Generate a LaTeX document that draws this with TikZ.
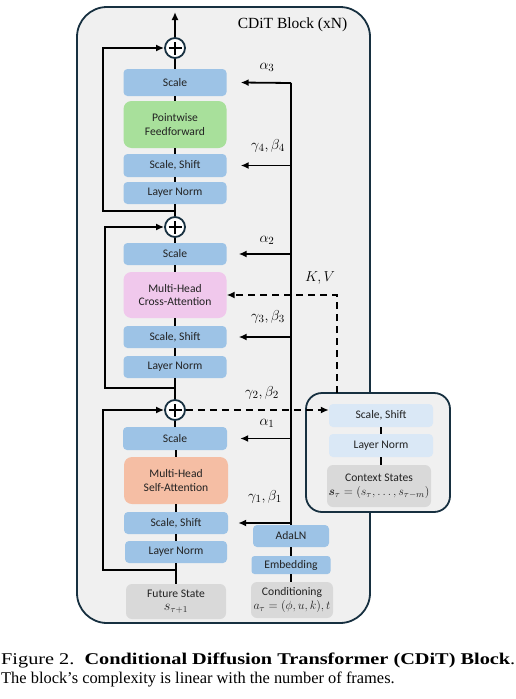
\documentclass[tikz,border=0pt]{standalone}
\usepackage{amsmath,bm}
\usepackage{graphicx}
\usepackage{fontspec}
\setmainfont{Liberation Serif}
\newfontfamily\boxfont{Carlito}
\usetikzlibrary{arrows.meta,calc}
\definecolor{bluebox}{HTML}{9DC3E6}
\definecolor{lightblue}{HTML}{DAE8F6}
\definecolor{greenbox}{HTML}{A8E09B}
\definecolor{pinkbox}{HTML}{F0C8EC}
\definecolor{salmonbox}{HTML}{F5BEA4}
\definecolor{graybox}{HTML}{D9D9D9}
\definecolor{outerfill}{HTML}{F0F0F0}
\definecolor{bordercol}{HTML}{173040}
\definecolor{txt}{HTML}{222222}
\begin{document}
\begin{tikzpicture}[x=1pt,y=-1pt,
  blk/.style={draw=none, rounded corners=4pt, inner sep=0pt, align=center,
    text=txt, font=\boxfont\fontsize{11.6}{13.5}\selectfont,
    minimum width=103pt, minimum height=22pt},
  bigblk/.style={blk, rounded corners=8pt, minimum height=47pt},
  ln/.style={line width=1.8pt, black},
  arr/.style={ln, -{Latex[length=8pt,width=7pt]}},
  darr/.style={arr, dash pattern=on 7pt off 5pt},
  plus/.style={circle, draw=bordercol, fill=white, line width=1.8pt,
    minimum size=20pt, inner sep=0pt,
    path picture={\draw[line width=1.8pt,black]
      ([xshift=-6.5pt]path picture bounding box.center) -- ([xshift=6.5pt]path picture bounding box.center)
      ([yshift=-6.5pt]path picture bounding box.center) -- ([yshift=6.5pt]path picture bounding box.center);}},
  mlab/.style={font=\fontsize{15.5}{17}\selectfont, inner sep=0pt},
]
\useasboundingbox (0,0) rectangle (516,699);

% outer block
\node[draw=bordercol, fill=outerfill, line width=1.8pt, rounded corners=30pt,
  minimum width=293pt, minimum height=616pt, inner sep=0pt] (outer) at (223.5,315) {};
\node[font=\fontsize{15.5}{18}\selectfont, inner sep=0pt] (title) at (292.5,25) {CDiT Block (xN)};

% context box
\node[draw=bordercol, fill=outerfill, line width=1.8pt, rounded corners=16pt,
  minimum width=144pt, minimum height=119pt, inner sep=0pt] (ctx) at (378,452.5) {};
\node[blk, fill=lightblue, minimum width=104pt, minimum height=23pt] (cssh) at (381,415.5) {Scale, Shift};
\node[blk, fill=lightblue, minimum width=104pt, minimum height=23pt] (cln) at (381,445.5) {Layer Norm};
\node[blk, fill=graybox, minimum width=104pt, minimum height=42pt, rounded corners=6pt] (cst) at (379,486)
  {Context States\\[1pt]{\fontsize{12.5}{14}\selectfont$\bm{s}_\tau=(s_\tau,\ldots,s_{\tau-m})$}};
\draw[ln] (cssh.south -| cln) -- (cln.north);
\draw[ln] (cln.south) -- (cln.south |- cst.north);

% main column
\node[plus] (p1) at (175,48) {};
\node[blk, fill=bluebox, minimum height=27pt] (sc3) at (175,82.5) {Scale};
\node[bigblk, fill=greenbox] (ff) at (175,124.5) {Pointwise\\Feedforward};
\node[blk, fill=bluebox, minimum height=23pt] (ss4) at (175,165.5) {Scale, Shift};
\node[blk, fill=bluebox] (ln4) at (175,193) {Layer Norm};

\node[plus] (p2) at (175,227) {};
\node[blk, fill=bluebox] (sc2) at (175,254) {Scale};
\node[bigblk, fill=pinkbox, minimum height=46pt] (ca) at (175,295) {Multi-Head\\Cross-Attention};
\node[blk, fill=bluebox] (ss3) at (175,337) {Scale, Shift};
\node[blk, fill=bluebox] (ln3) at (175,367) {Layer Norm};

\node[plus] (p3) at (175,410) {};
\node[blk, fill=bluebox, minimum height=23pt, minimum width=104pt] (sc1) at (175,438.5) {Scale};
\node[bigblk, fill=salmonbox, minimum width=104pt] (sa) at (176,480.5) {Multi-Head\\Self-Attention};
\node[blk, fill=bluebox, minimum width=104pt] (ss1) at (176,523) {Scale, Shift};
\node[blk, fill=bluebox, minimum width=102pt] (ln1) at (176,552) {Layer Norm};
\node[blk, fill=graybox, minimum width=100pt, minimum height=35pt, rounded corners=6pt] (fut) at (176,601.5)
  {Future State\\{\fontsize{13.5}{14}\selectfont$s_{\tau+1}$}};

\coordinate (top) at (175,12);
\draw[arr] (p1) -- (top);
\draw[ln] (p1) -- (sc3);
\draw[ln] (sc3) -- (ff);
\draw[ln] (ff) -- (ss4);
\draw[ln] (ss4) -- (ln4);
\draw[ln] (ln4) -- (p2);
\draw[ln] (p2) -- (sc2);
\draw[ln] (sc2) -- (ca);
\draw[ln] (ca) -- (ss3);
\draw[ln] (ss3) -- (ln3);
\draw[ln] (ln3) -- (p3);
\draw[ln] (p3) -- (sc1);
\draw[ln] (sc1.south -| sa) -- (sa);
\draw[ln] (sa) -- (ss1);
\draw[ln] (ss1) -- (ln1);
\draw[ln] (ln1) -- (fut);

% residual connections
\coordinate (r1) at (175,211);
\coordinate (r2) at (175,388);
\coordinate (r3) at (176,570);
\draw[arr] (r1) -- ++(-72,0) |- (p1.west);
\draw[arr] (r2) -- ++(-70,0) |- (p2.west);
\draw[arr] (r3) -- ++(-73,0) |- (p3.west);

% conditioning column
\node[blk, fill=bluebox, minimum width=76pt] (ada) at (291,536) {AdaLN};
\node[blk, fill=bluebox, minimum width=79pt, minimum height=18pt, rounded corners=3pt] (emb) at (291,565) {Embedding};
\node[blk, fill=graybox, minimum width=82pt, minimum height=36pt, rounded corners=6pt] (cond) at (292,600)
  {Conditioning\\{\fontsize{12.5}{14}\selectfont$a_\tau=(\phi,u,k),t$}};
\coordinate (rail) at (291,83);
\draw[ln] (rail) -- (ada);
\draw[ln] (ada) -- (emb);
\draw[ln] (emb) -- (cond.north -| emb);

\draw[arr] (rail) -- ([xshift=14pt]sc3.east);
\draw[arr] (rail |- ss4) -- ([xshift=14pt]ss4.east);
\draw[arr] (rail |- sc2) -- ([xshift=12pt]sc2.east);
\draw[arr] (rail |- ss3) -- ([xshift=12pt]ss3.east);
\draw[arr] (rail |- sc1) -- ([xshift=13pt]sc1.east);
\draw[arr] (rail |- ss1) -- ([xshift=10pt]ss1.east);

% dashed context links
\draw[darr] (p3.east) -- (p3 -| cssh.west);
\coordinate (kv) at (337,393);
\draw[darr] (kv) |- (ca.east);

% labels
\node[mlab] (la3) at (267,67) {$\alpha_3$};
\node[mlab] (lg4) at (268,146) {$\gamma_4,\beta_4$};
\node[mlab] (la2) at (267,240) {$\alpha_2$};
\node[mlab] (lkv) at (320,278) {$K,V$};
\node[mlab] (lg3) at (268,317) {$\gamma_3,\beta_3$};
\node[mlab] (lg2) at (262,393) {$\gamma_2,\beta_2$};
\node[mlab] (la1) at (267,423) {$\alpha_1$};
\node[mlab] (lg1) at (265,497) {$\gamma_1,\beta_1$};

% caption
\node[anchor=base west, inner sep=0pt, font=\fontsize{16.4}{19}\selectfont] (cap1) at (1,664)
  {\resizebox{514pt}{\height}{Figure 2.\ \ \textbf{Conditional Diffusion Transformer (CDiT) Block}.}};
\node[anchor=base west, inner sep=0pt, font=\fontsize{16.4}{19}\selectfont] (cap2) at (1,683)
  {The block’s complexity is linear with the number of frames.};
\end{tikzpicture}
\end{document}
